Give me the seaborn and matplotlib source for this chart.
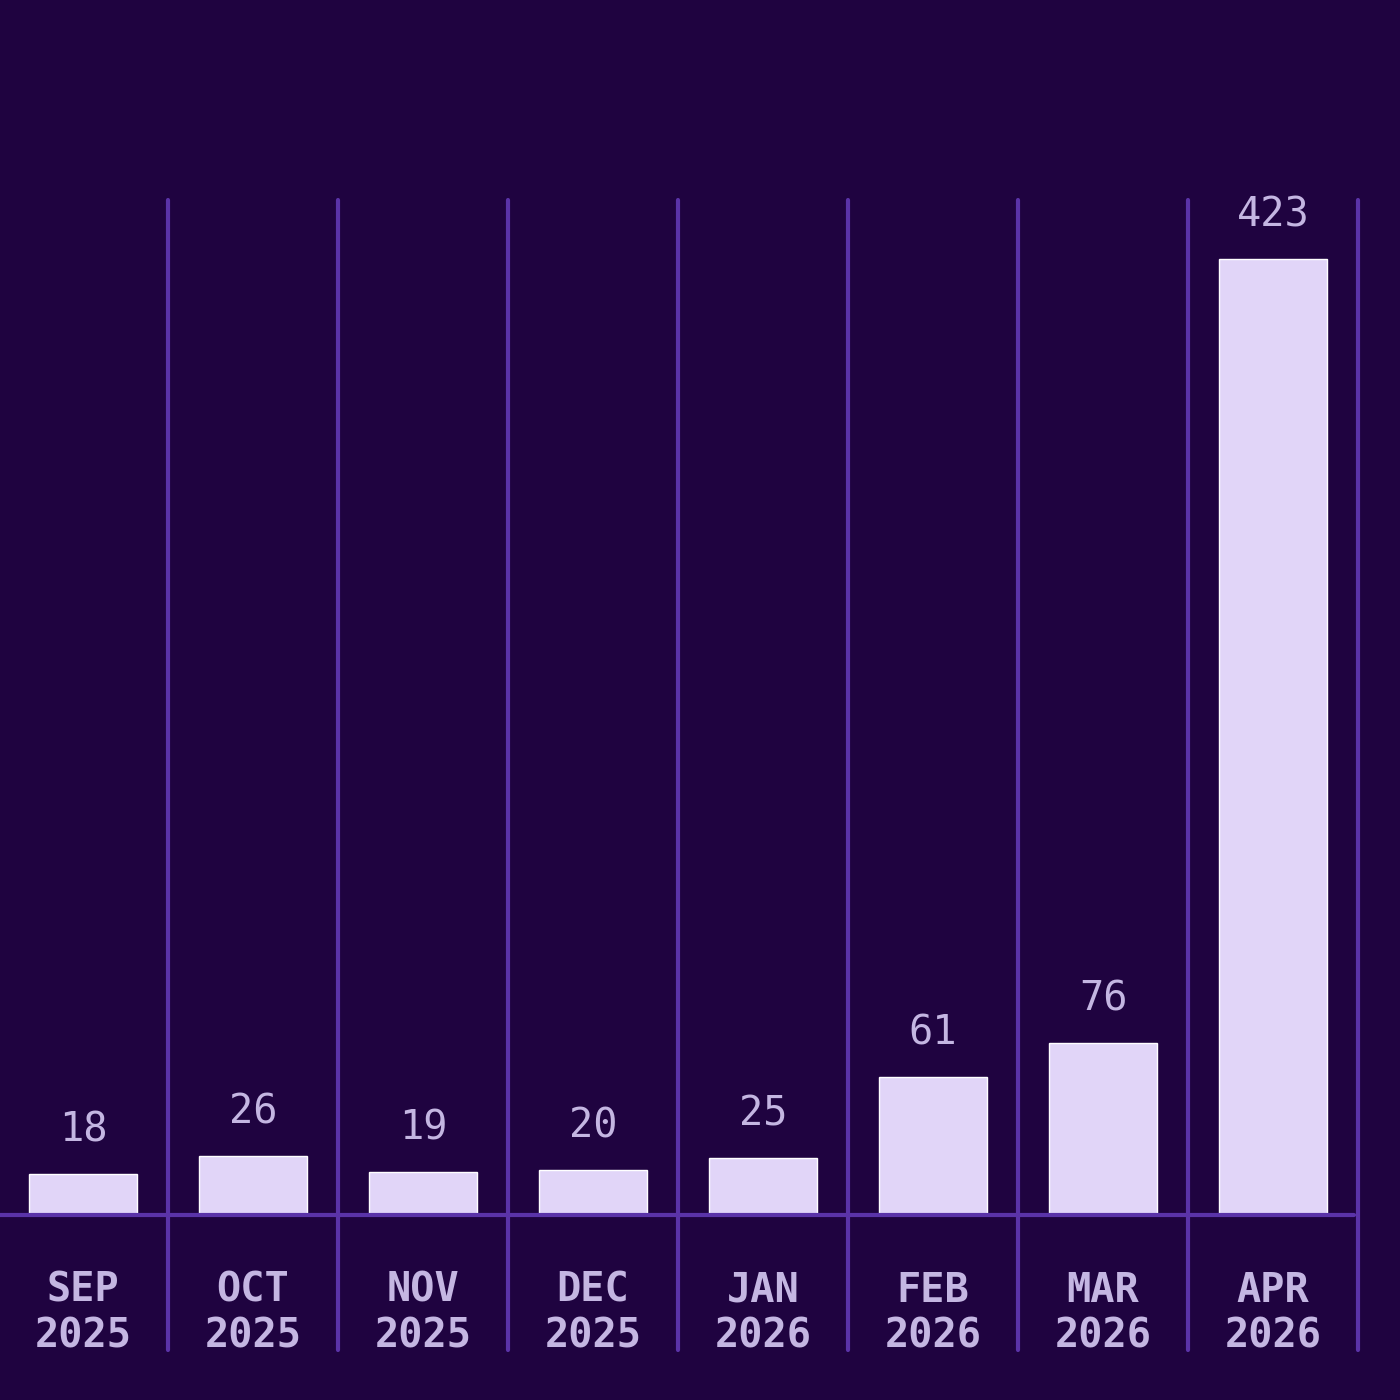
import pandas as pd
import seaborn as sns
import matplotlib
import matplotlib.pyplot as plt

matplotlib.use('Agg')

months = ["SEP\n2025", "OCT\n2025", "NOV\n2025", "DEC\n2025",
          "JAN\n2026", "FEB\n2026", "MAR\n2026", "APR\n2026"]
counts = [18, 26, 19, 20, 25, 61, 76, 423]

BG = "#1f0340"
GRID = "#5a33a8"
BAR = "#e1d5f8"
TEXT = "#c4b6e2"

sns.set_style("dark", {"axes.facecolor": BG, "figure.facecolor": BG})
plt.rcParams['font.family'] = ['DejaVu Sans Mono', 'DejaVu Sans']

df = pd.DataFrame({"month": months, "count": counts})

fig = plt.figure(figsize=(14, 14), dpi=100)
fig.patch.set_facecolor(BG)
# axes: x=-0.5 at px -2, x=7.5 at px 1358; baseline at px 1215, top at px 200
ax = fig.add_axes([-2 / 1400, (1400 - 1215) / 1400, 1360 / 1400, (1215 - 200) / 1400])
ax.set_facecolor(BG)

sns.barplot(data=df, x="month", y="count", color=BAR, saturation=1,
            width=0.64, ax=ax, zorder=3)

ax.set_xlim(-0.5, len(months) - 0.5)
ax.set_ylim(0, 449)

# vertical separators between months, running down past the baseline
below = (1350 - 1215) / (1215 - 200)
for i in range(len(months) + 1):
    ax.axvline(i - 0.5, ymin=-below, ymax=1, color=GRID, lw=3, clip_on=False, zorder=1)
ax.axhline(0, xmin=0, xmax=0.997, color=GRID, lw=3, clip_on=False, zorder=4)

for i, v in enumerate(counts):
    ax.annotate(str(v), (i, v), xytext=(0, 17), textcoords="offset points",
                ha="center", va="bottom", fontsize=29, color=TEXT)

ax.set_xticks(range(len(months)))
ax.set_xticklabels(months, fontsize=29, fontweight="bold", color=TEXT,
                   linespacing=1.22)
ax.tick_params(axis="x", length=0, pad=40)
ax.set_yticks([])
ax.set_xlabel("")
ax.set_ylabel("")
for s in ax.spines.values():
    s.set_visible(False)
ax.grid(False)

fig.savefig("out.png", dpi=100, facecolor=BG)
